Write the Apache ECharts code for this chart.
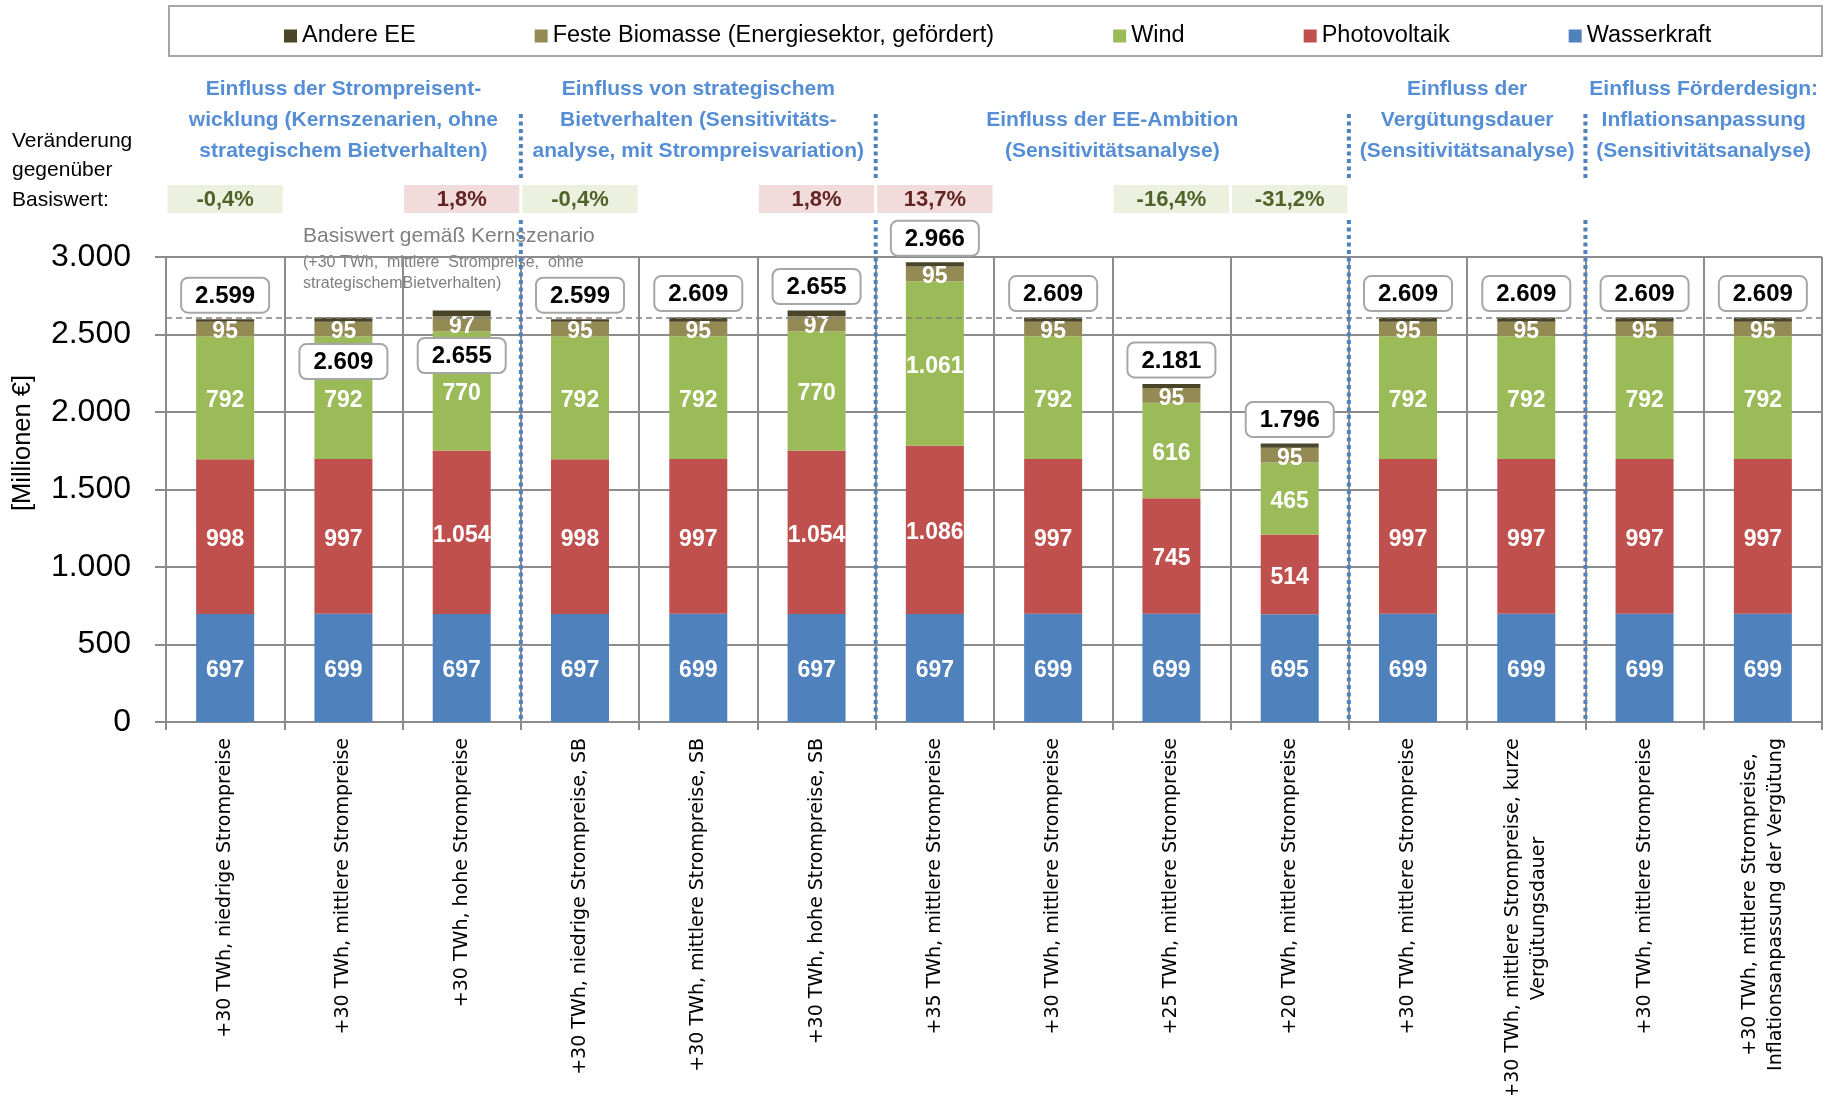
<!DOCTYPE html>
<html><head><meta charset="utf-8">
<script src="https://cdn.jsdelivr.net/npm/echarts@6/dist/echarts.min.js"></script>
<style>html,body{margin:0;padding:0;background:#fff}#c{width:1826px;height:1095px}</style>
</head><body><div id="c"></div>
<script>
// ---------- data ----------
const categories = [
  '+30 TWh, niedrige Strompreise',
  '+30 TWh, mittlere Strompreise',
  '+30 TWh, hohe Strompreise',
  '+30 TWh, niedrige Strompreise, SB',
  '+30 TWh, mittlere Strompreise, SB',
  '+30 TWh, hohe Strompreise, SB',
  '+35 TWh, mittlere Strompreise',
  '+30 TWh, mittlere Strompreise',
  '+25 TWh, mittlere Strompreise',
  '+20 TWh, mittlere Strompreise',
  '+30 TWh, mittlere Strompreise',
  '+30 TWh, mittlere Strompreise, kurze\nVergütungsdauer',
  '+30 TWh, mittlere Strompreise',
  '+30 TWh, mittlere Strompreise,\nInflationsanpassung der Vergütung'
];
const wasserkraft   = [697, 699, 697, 697, 699, 697, 697, 699, 699, 695, 699, 699, 699, 699];
const photovoltaik  = [998, 997, 1054, 998, 997, 1054, 1086, 997, 745, 514, 997, 997, 997, 997];
const wind          = [792, 792, 770, 792, 792, 770, 1061, 792, 616, 465, 792, 792, 792, 792];
const festeBiomasse = [95, 95, 97, 95, 95, 97, 95, 95, 95, 95, 95, 95, 95, 95];
const andereEE      = [17, 26, 37, 17, 26, 37, 27, 26, 26, 27, 26, 26, 26, 26];
const totals        = [2599, 2609, 2655, 2599, 2609, 2655, 2966, 2609, 2181, 1796, 2609, 2609, 2609, 2609];
const changeVsBase  = ['-0,4%', '', '1,8%', '-0,4%', '', '1,8%', '13,7%', '', '-16,4%', '-31,2%', '', '', '', ''];
const baseValue = 2609;
const groupFrom = [0, 3, 6, 10, 12];
const groupTo   = [2, 5, 9, 11, 13];
const groupTitles = [
  ['Einfluss der Strompreisent-', 'wicklung (Kernszenarien, ohne', 'strategischem Bietverhalten)'],
  ['Einfluss von strategischem', 'Bietverhalten (Sensitivitäts-', 'analyse, mit Strompreisvariation)'],
  ['Einfluss der EE-Ambition', '(Sensitivitätsanalyse)'],
  ['Einfluss der', 'Vergütungsdauer', '(Sensitivitätsanalyse)'],
  ['Einfluss Förderdesign:', 'Inflationsanpassung', '(Sensitivitätsanalyse)']
];
const separatorsAfter = [2, 5, 9, 11];
const seriesNames = ['Wasserkraft', 'Photovoltaik', 'Wind', 'Feste Biomasse (Energiesektor, gefördert)', 'Andere EE'];
const legendOrder = ['Andere EE', 'Feste Biomasse (Energiesektor, gefördert)', 'Wind', 'Photovoltaik', 'Wasserkraft'];
const changeLabel = ['Veränderung', 'gegenüber', 'Basiswert:'];
const yAxisTitle = '[Millionen €]';

// ---------- styles ----------
const colors = ['#4F81BD', '#C0504D', '#9BBB59', '#948A54', '#4A4529'];
const totalLabelShift = [-24, 44, 45, -24, -24, -24, -24, -24, -24, -24, -24, -24, -24, -24];
const F = '"Liberation Sans", Arial, sans-serif';
const XF = '"DejaVu Sans", sans-serif';
const XFS = 19;
const fmt = v => v >= 1000 ? Math.floor(v / 1000) + '.' + String(v % 1000).padStart(3, '0') : String(v);
const gridColor = '#8C8C8C';

// rich styles so that multi-line category labels are centred line by line
const ctx = document.createElement('canvas').getContext('2d');
ctx.font = XFS + 'px ' + XF;
const rich = {};
categories.forEach((c, i) => {
  const lines = c.split('\n');
  if (lines.length > 1) {
    const w = Math.ceil(Math.max(...lines.map(l => ctx.measureText(l).width)));
    rich['m' + i] = { width: w, align: 'center', fontFamily: XF, fontSize: XFS, lineHeight: 26, color: '#000' };
  }
});

const chart = echarts.init(document.getElementById('c'));
const values = [wasserkraft, photovoltaik, wind, festeBiomasse, andereEE];

const barSeries = seriesNames.map((name, k) => ({
  name, type: 'bar', stack: 'total', barWidth: 58,
  itemStyle: { color: colors[k] },
  label: {
    show: k < 4, position: 'inside', offset: [0, 3], color: '#fff', fontFamily: F, fontWeight: 'bold', fontSize: 23,
    formatter: p => fmt(p.value)
  },
  data: values[k],
  markLine: k === 4 ? {
    silent: true, symbol: 'none', label: { show: false },
    lineStyle: { color: '#808080', type: [6, 4], width: 1.5 },
    data: [{ yAxis: baseValue }]
  } : undefined
}));

const option = {
  animation: false,
  backgroundColor: '#fff',
  grid: { left: 166, right: 4, top: 257, bottom: 373, containLabel: false, outerBoundsMode: 'none' },
  legend: {
    data: legendOrder, left: 279, top: 19, itemGap: 119, itemWidth: 13, itemHeight: 13,
    icon: 'rect', textStyle: { fontFamily: F, fontSize: 23.5, color: '#000' }
  },
  xAxis: {
    type: 'category', data: categories,
    axisLine: { show: true, lineStyle: { color: gridColor, width: 2 } },
    axisTick: { show: true, length: 8, lineStyle: { color: gridColor, width: 2 } },
    splitLine: { show: true, lineStyle: { color: gridColor, width: 2 } },
    axisLabel: {
      interval: 0, rotate: 90, margin: 16, color: '#000',
      fontFamily: XF, fontSize: XFS, lineHeight: 26,
      formatter: (v, i) => {
        const lines = v.split('\n');
        return lines.length > 1 ? lines.map(s => '{m' + i + '|' + s + '}').join('\n') : v;
      },
      rich
    }
  },
  yAxis: {
    type: 'value', min: 0, max: 3000, interval: 500,
    axisLine: { show: true, lineStyle: { color: gridColor, width: 2 } },
    axisTick: { show: true, length: 11, lineStyle: { color: gridColor, width: 2 } },
    splitLine: { show: true, lineStyle: { color: gridColor, width: 2 } },
    axisLabel: { margin: 35, fontFamily: F, fontSize: 32, color: '#000', formatter: v => fmt(v) }
  },
  graphic: [
    { type: 'rect', shape: { x: 169, y: 6, width: 1653, height: 50 }, style: { fill: 'none', stroke: '#A6A6A6', lineWidth: 2 }, z: 0 },
    ...changeLabel.map((t, k) => ({ type: 'text', x: 12, y: 141 + k * 29.5, style: { text: t, font: '21px ' + F, fill: '#000', verticalAlign: 'middle' } })),
    { type: 'text', x: 22.5, y: 443, rotation: Math.PI / 2, style: { text: yAxisTitle, font: '25.5px ' + F, fill: '#000', align: 'center', verticalAlign: 'middle' } },
    {
      type: 'group', z: 100, children: [
        { type: 'rect', shape: { x: 298, y: 219, width: 314, height: 79 }, style: { fill: 'rgba(255,255,255,0.85)' } },
        { type: 'text', x: 303, y: 236, style: { text: 'Basiswert gemäß Kernszenario', font: '21px ' + F, fill: '#7F7F7F', verticalAlign: 'middle' } },
        { type: 'text', x: 303, y: 263, style: { text: '(+30 TWh,  mittlere  Strompreise,  ohne', font: '16px ' + F, fill: '#7F7F7F', verticalAlign: 'middle' } },
        { type: 'text', x: 303, y: 284, style: { text: 'strategischemBietverhalten)', font: '16px ' + F, fill: '#7F7F7F', verticalAlign: 'middle' } }
      ]
    }
  ],
  series: [
    ...barSeries,
    // total labels
    {
      type: 'custom', name: 'Summe', silent: true, z: 10,
      encode: { x: 0, y: 1 },
      data: totals.map((t, i) => [i, t]),
      renderItem: (params, api) => {
        const i = api.value(0), v = api.value(1);
        const p = api.coord([i, v]);
        const cy = p[1] + totalLabelShift[i];
        return {
          type: 'group', children: [
            { type: 'rect', shape: { x: p[0] - 44, y: cy - 17.5, width: 88, height: 35, r: 7 }, style: { fill: '#fff', stroke: '#A6A6A6', lineWidth: 2 } },
            { type: 'text', style: { text: fmt(v), x: p[0], y: cy + 1, align: 'center', verticalAlign: 'middle', font: 'bold 24px ' + F, fill: '#000' } }
          ]
        };
      }
    },
    // change vs base row
    {
      type: 'custom', name: 'Veränderung', silent: true, z: 10,
      encode: { x: 0, y: 1 },
      data: changeVsBase.map((t, i) => [i, 0]),
      renderItem: (params, api) => {
        const i = api.value(0);
        const txt = changeVsBase[i];
        if (!txt) return null;
        const p = api.coord([i, 0]);
        const w = api.size([1, 0])[0];
        const neg = txt.charAt(0) === '-';
        return {
          type: 'group', children: [
            { type: 'rect', shape: { x: p[0] - w / 2 + 1.5, y: 185, width: w - 3, height: 28 }, style: { fill: neg ? '#EBF1DE' : '#F2DCDB' } },
            { type: 'text', style: { text: txt, x: p[0], y: 200, align: 'center', verticalAlign: 'middle', font: 'bold 22px ' + F, fill: neg ? '#4F6228' : '#632523' } }
          ]
        };
      }
    },
    // group titles
    {
      type: 'custom', name: 'Gruppen', silent: true, z: 10,
      encode: { x: [0, 1], y: 2 },
      data: groupFrom.map((f, g) => [f, groupTo[g], 0]),
      renderItem: (params, api) => {
        const g = params.dataIndex;
        const a = api.coord([api.value(0), 0]);
        const b = api.coord([api.value(1), 0]);
        const lines = groupTitles[g];
        return {
          type: 'group', children: lines.map((s, k) => ({
            type: 'text', style: {
              text: s, x: (a[0] + b[0]) / 2, y: 151 - (lines.length - 1 - k) * 31,
              align: 'center', verticalAlign: 'middle', font: 'bold 21px ' + F, fill: '#558ED5'
            }
          }))
        };
      }
    },
    // dotted group separators
    {
      type: 'custom', name: 'Trenner', silent: true, z: 11,
      encode: { x: 0, y: 1 },
      data: separatorsAfter.map(i => [i, 0]),
      renderItem: (params, api) => {
        const i = api.value(0);
        const a = api.coord([i, 0]);
        const b = api.coord([i + 1, 0]);
        const x = (a[0] + b[0]) / 2;
        const st = { stroke: '#4F81BD', lineWidth: 4, lineDash: [4, 3.5] };
        return {
          type: 'group', children: [
            { type: 'line', shape: { x1: x, y1: 114, x2: x, y2: 181 }, style: st },
            { type: 'line', shape: { x1: x, y1: 220, x2: x, y2: a[1] }, style: st }
          ]
        };
      }
    }
  ]
};
chart.setOption(option);
</script>
</body></html>
